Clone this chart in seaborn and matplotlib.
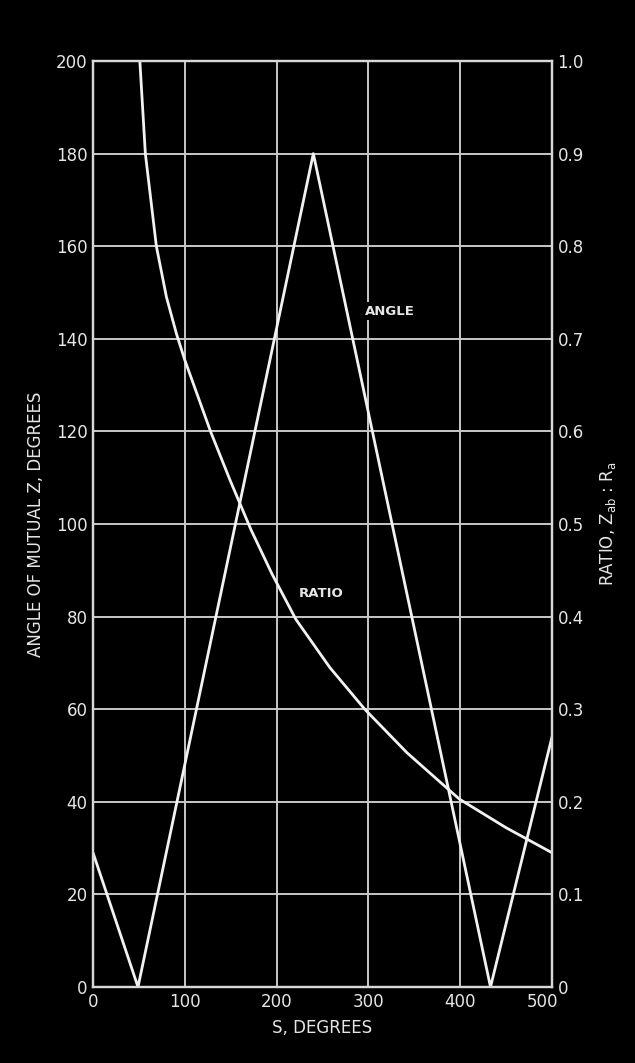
import matplotlib
matplotlib.use("Agg")
import matplotlib.pyplot as plt
import matplotlib.transforms as mtransforms
import seaborn as sns
import pandas as pd

# angle of mutual Z (left axis), straight segments between corners
angle_s = [0, 49, 240, 433, 500]
angle_deg = [29, 0, 180, 0, 54]

# ratio Zab:Ra (right axis)
ratio_s = [51, 57, 69, 80, 91, 100, 128, 149, 172, 195, 221, 258, 296, 342, 399, 450, 500]
ratio_val = [1.0, 0.9, 0.8, 0.745, 0.705, 0.677, 0.6, 0.548, 0.494, 0.446, 0.397,
             0.345, 0.3, 0.253, 0.203, 0.172, 0.145]

x_ticks = [0, 100, 200, 300, 400, 500]
left_ticks = list(range(0, 201, 20))
right_ticks = [0, 0.1, 0.2, 0.3, 0.4, 0.5, 0.6, 0.7, 0.8, 0.9, 1.0]
right_labels = ["0", "0.1", "0.2", "0.3", "0.4", "0.5", "0.6", "0.7", "0.8", "0.9", "1.0"]

angle_df = pd.DataFrame({"s": angle_s, "angle": angle_deg})
ratio_df = pd.DataFrame({"s": ratio_s, "ratio": ratio_val})

sns.set_theme(style="dark", rc={
    "figure.facecolor": "black",
    "axes.facecolor": "black",
    "axes.edgecolor": "#d8d8d8",
    "axes.linewidth": 1.6,
    "text.color": "#e6e6e6",
    "xtick.color": "#e6e6e6",
    "ytick.color": "#e6e6e6",
    "axes.labelcolor": "#e6e6e6",
})
plt.rcParams["font.family"] = ["DejaVu Sans"]

fig = plt.figure(figsize=(6.35, 10.63), dpi=100)
ax = fig.add_axes([0.1465, 0.0715, 0.7228, 0.8711])
ax2 = ax.twinx()

line_col = "#f2f2f2"
sns.lineplot(data=angle_df, x="s", y="angle", ax=ax, color=line_col, lw=2.0,
             estimator=None, sort=False, legend=False)
sns.lineplot(data=ratio_df, x="s", y="ratio", ax=ax2, color=line_col, lw=2.0,
             estimator=None, sort=False, legend=False)

ax.set_xlim(0, 500)
ax.set_ylim(0, 200)
ax2.set_ylim(0, 1.0)

ax.set_xticks(x_ticks)
ax.set_xticklabels([str(v) for v in x_ticks])
ax.set_yticks(left_ticks)
ax.set_yticklabels([str(v) for v in left_ticks])
ax2.set_yticks(right_ticks)
ax2.set_yticklabels(right_labels)

ax.grid(True, color="#c8c8c8", lw=1.4)
ax2.grid(False)
ax.set_axisbelow(True)
for a in (ax, ax2):
    a.tick_params(length=0, labelsize=12, pad=4)
    for sp in a.spines.values():
        sp.set_color("#d8d8d8")
        sp.set_linewidth(1.6)

# "500" sits a little left so it clears the right-hand "0"
last = ax.get_xticklabels()[-1]
last.set_transform(last.get_transform() +
                   mtransforms.ScaledTranslation(-0.1, 0, fig.dpi_scale_trans))

ax.set_xlabel("S, DEGREES", fontsize=12, labelpad=6)
ax.set_ylabel("ANGLE OF MUTUAL Z, DEGREES", fontsize=12, labelpad=8)
ax2.set_ylabel(r"RATIO, Z$_{\mathrm{ab}}$ : R$_{\mathrm{a}}$", fontsize=12, labelpad=10)

box = dict(facecolor="black", edgecolor="none", pad=2)
ax.text(323, 146, "ANGLE", fontsize=9.5, fontweight="bold", ha="center", va="center",
        color="#e6e6e6", bbox=box)
ax.text(248, 85, "RATIO", fontsize=9.5, fontweight="bold", ha="center", va="center",
        color="#e6e6e6", bbox=box)

fig.savefig("out.png", dpi=100, facecolor="black")
